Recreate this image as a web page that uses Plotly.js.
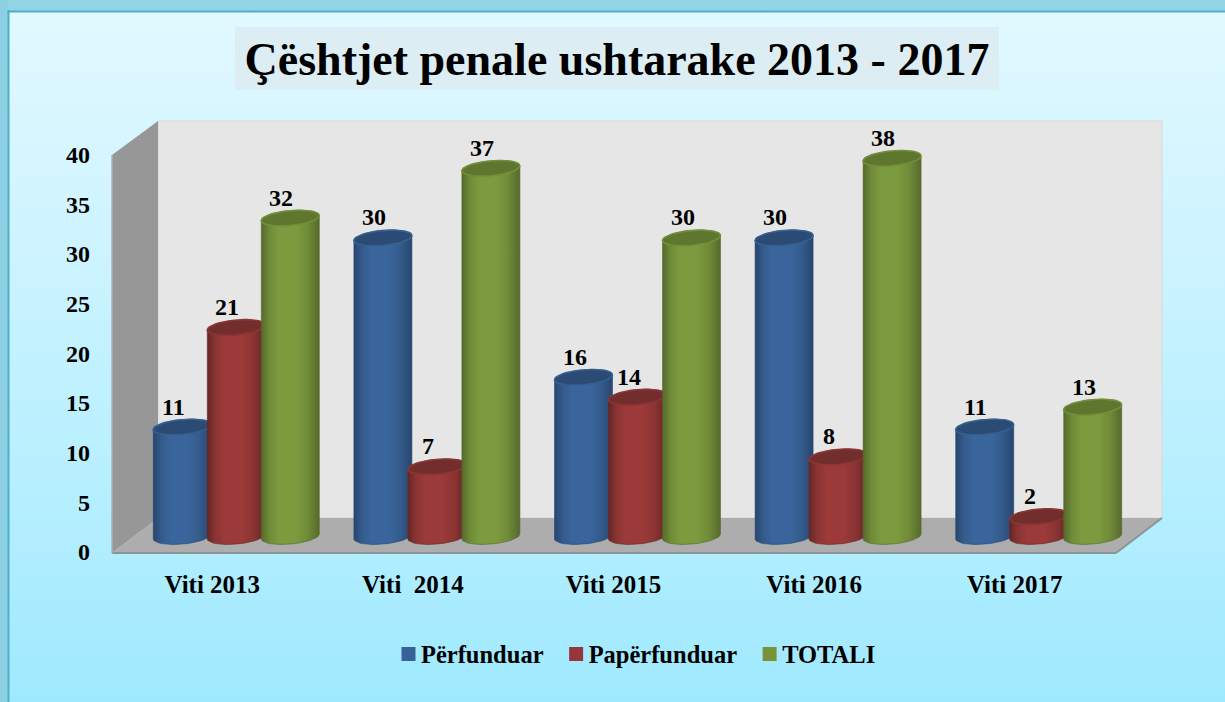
<!DOCTYPE html>
<html><head><meta charset="utf-8">
<script src="https://cdn.plot.ly/plotly-3.0.1.min.js"></script>
<style>
html,body{margin:0;padding:0;overflow:hidden;background:#a0e9ff}
#chart{width:1225px;height:702px;background:linear-gradient(180deg,#e2f9ff 0%,#d4f5ff 25%,#b6efff 70%,#9fe9ff 100%)}
</style></head><body><div id="chart"></div>
<script>
const categories = ['Viti 2013', 'Viti\u00a0 2014', 'Viti 2015', 'Viti 2016', 'Viti 2017'];
const perfunduar = [11, 30, 16, 30, 11];
const paperfunduar = [21, 7, 14, 8, 2];
const totali = [32, 37, 30, 38, 13];
const seriesNames = ['Përfunduar', 'Papërfunduar', 'TOTALI'];
const yTicks = [0, 5, 10, 15, 20, 25, 30, 35, 40];
const chartTitle = 'Çështjet penale ushtarake 2013 - 2017';

const seriesValues = [perfunduar, paperfunduar, totali];
const swatch = ['#38619a', '#96353a', '#789436'];
const shades = [
  {side:'#27466f', mid:'#3a659c', dim:'#345b8c', cap:'#2b4b74', rim:'#36608f'},
  {side:'#642625', mid:'#9b3a39', dim:'#8a3433', cap:'#722e2d', rim:'#8d3534'},
  {side:'#566a2c', mid:'#7c9a3e', dim:'#6f8b38', cap:'#5f762f', rim:'#728f3a'}
];
const W = 1225, H = 702;
const pxX = 1 / 200.6, pxY = 1 / 9.95;
const step = 54 * pxX, halfW = 29 * pxX, barHalf = 25 * pxX;

function arc(cx, cy, a, b, n) {
  const xs = [], ys = [];
  for (let i = 0; i <= n; i++) {
    const t = a + (b - a) * i / n, dx = Math.cos(t) * 29;
    xs.push(cx + dx * pxX);
    ys.push(cy + (Math.sin(t) * 7.5 + dx * 0.085) * pxY);
  }
  return [xs, ys];
}
const traces = [];
traces.push({type:'scatter', x:[0,4], y:[0,40], mode:'markers', marker:{opacity:0}, xaxis:'x', yaxis:'y', showlegend:false, hoverinfo:'skip'});
seriesValues.forEach((vals, s) => {
  traces.push({type:'bar', name:seriesNames[s], x:categories.map((_, i) => i), y:vals,
    width:2 * barHalf, offset:(s - 1) * step - barHalf,
    marker:{color:swatch[s], line:{width:2, color:swatch[s]}}, xaxis:'x2', yaxis:'y2'});
});
categories.forEach((_, i) => {
  seriesValues.forEach((vals, s) => {
    const cx = i + (s - 1) * step, v = vals[i], c = shades[s];
    const frontTop = arc(cx, v, Math.PI, 0, 24);
    const frontBot = arc(cx, 0, 0, -Math.PI, 24);
    const bx = frontTop[0].concat(frontBot[0]), by = frontTop[1].concat(frontBot[1]);
    traces.push({type:'scatter', mode:'lines', x:bx.concat(bx[0]), y:by.concat(by[0]),
      fill:'toself', line:{width:0.6, color:c.side}, showlegend:false, hoverinfo:'skip', xaxis:'x2', yaxis:'y2',
      fillgradient:{type:'horizontal', colorscale:[[0,c.side],[0.14,c.dim],[0.3,c.mid],[0.6,c.mid],[0.8,c.dim],[1,c.side]]}});
    const capFull = arc(cx, v, 0, 2 * Math.PI, 48);
    traces.push({type:'scatter', mode:'lines', x:capFull[0], y:capFull[1], fill:'toself', fillcolor:c.cap,
      line:{width:1.6, color:c.rim}, showlegend:false, hoverinfo:'skip', xaxis:'x2', yaxis:'y2'});
  });
});
const annotations = [];
categories.forEach((_, i) => seriesValues.forEach((vals, s) => {
  annotations.push({x:i + (s - 1) * step, y:vals[i], xref:'x2', yref:'y2', text:'<b>' + vals[i] + '</b>', showarrow:false,
    xshift:-9, yshift:20.5, xanchor:'center', yanchor:'middle',
    font:{family:'Liberation Serif', size:24, color:'#000'}});
}));

const px = (x, y) => [x / W, 1 - y / H];
const poly = pts => 'M' + pts.map(p => { const q = px(p[0], p[1]); return q[0] + ',' + q[1]; }).join('L') + 'Z';
const shapes = [
  {type:'rect', xref:'paper', yref:'paper', x0:0, x1:1, y0:1 - 11 / H, y1:1, fillcolor:'#93d4e7', line:{width:0}, layer:'below'},
  {type:'rect', xref:'paper', yref:'paper', x0:0, x1:8 / W, y0:0, y1:1, fillcolor:'#8ed0e3', line:{width:0}, layer:'below'},
  {type:'rect', xref:'paper', yref:'paper', x0:7.5 / W, x1:9.5 / W, y0:0, y1:1 - 10 / H, fillcolor:'#4fafc8', line:{width:0}, layer:'below'},
  {type:'rect', xref:'paper', yref:'paper', x0:7.5 / W, x1:1, y0:1 - 12.5 / H, y1:1 - 10.5 / H, fillcolor:'#4fafc8', line:{width:0}, layer:'below'},
  {type:'rect', xref:'paper', yref:'paper', x0:235 / W, x1:999 / W, y0:1 - 90 / H, y1:1 - 27 / H, fillcolor:'#dceef3', line:{width:0}, layer:'below'},
  {type:'path', xref:'paper', yref:'paper', path:poly([[158,121],[1162,121],[1162,518],[158,518]]), fillcolor:'#e6e6e6', line:{width:1, color:'#d8d8d8'}, layer:'below'},
  {type:'path', xref:'paper', yref:'paper', path:poly([[112,155],[158,121],[158,518],[112,553]]), fillcolor:'#979797', line:{width:0}, layer:'below'},
  {type:'path', xref:'paper', yref:'paper', path:poly([[112,553],[158,518],[1162,518],[1116,553]]), fillcolor:'#adadad', line:{width:0}, layer:'below'},
  {type:'line', xref:'paper', yref:'paper', x0:112 / W, x1:1116 / W, y0:1 - 553 / H, y1:1 - 553 / H, line:{width:2, color:'#8a9499'}, layer:'below'},
  {type:'line', xref:'paper', yref:'paper', x0:1116 / W, x1:1162 / W, y0:1 - 553 / H, y1:1 - 518 / H, line:{width:2, color:'#8a9499'}, layer:'below'},
  {type:'line', xref:'paper', yref:'paper', x0:112 / W, x1:112 / W, y0:1 - 553 / H, y1:1 - 155 / H, line:{width:1.5, color:'#a9b2b6'}, layer:'below'}
];

const layout = {
  width:W, height:H, margin:{l:0, r:0, t:0, b:0}, autosize:false,
  paper_bgcolor:'rgba(0,0,0,0)', plot_bgcolor:'rgba(0,0,0,0)',
  barmode:'overlay', hovermode:false,
  font:{family:'Liberation Serif', color:'#000'},
  title:{text:'<b>' + chartTitle + '</b>', x:617 / W, xanchor:'center', y:1 - 59 / H, yanchor:'middle', font:{family:'Liberation Serif', size:46, color:'#000'}},
  xaxis:{domain:[112 / W, 1115 / W], range:[-0.5, 4.5], tickvals:[0, 1, 2, 3, 4], ticktext:categories.map(c => '<b>' + c + '</b>'),
    showgrid:false, zeroline:false, showline:false, ticks:'', ticklen:0, anchor:'y', fixedrange:true, ticklabelstandoff:15,
    tickfont:{family:'Liberation Serif', size:25, color:'#000'}},
  yaxis:{domain:[1 - 552 / H, 1 - 154.5 / H], range:[0, 40], tickvals:yTicks, ticktext:yTicks.map(t => '<b>' + t + '</b>'),
    showgrid:false, zeroline:false, showline:false, ticks:'', anchor:'x', fixedrange:true, ticklabelstandoff:21,
    tickfont:{family:'Liberation Serif', size:24, color:'#000'}},
  xaxis2:{domain:[136 / W, 1139 / W], range:[-0.5, 4.5], visible:false, anchor:'y2', fixedrange:true},
  yaxis2:{domain:[1 - 546.5 / H, 1 - 128.5 / H], range:[-1, 41], visible:false, anchor:'x2', fixedrange:true},
  legend:{orientation:'h', x:381 / W, xanchor:'left', y:1 - 654 / H, yanchor:'middle', bgcolor:'rgba(0,0,0,0)',
    font:{family:'Liberation Serif', size:24.5, color:'#000', weight:'bold'}, itemclick:false, itemdoubleclick:false},
  shapes, annotations
};
Plotly.newPlot('chart', traces, layout, {displayModeBar:false, staticPlot:true}).then(gd => {
  gd.querySelectorAll('.legend .legendsymbols').forEach(g => g.setAttribute('transform', 'translate(7.5,0)'));
});
</script></body></html>
